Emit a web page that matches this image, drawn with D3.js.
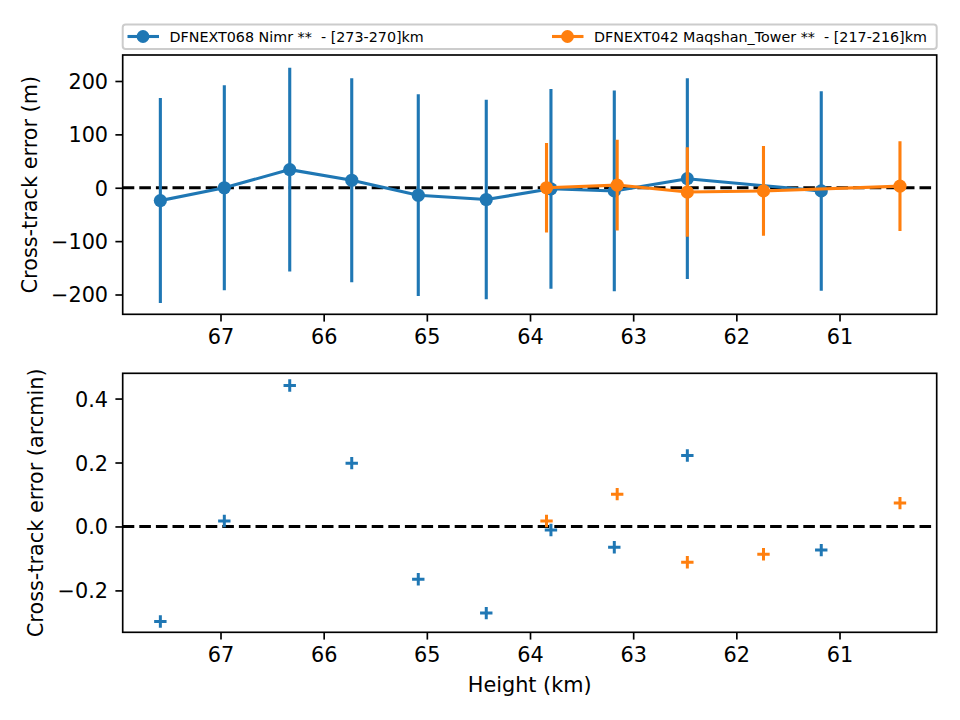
<!DOCTYPE html>
<html>
<head>
<meta charset="utf-8">
<script src="https://cdn.jsdelivr.net/npm/d3@7"></script>
<style>
  html, body { margin: 0; padding: 0; background: #ffffff; }
  svg { display: block; font-family: "DejaVu Sans", sans-serif; }
</style>
</head>
<body>
<svg id="chart" width="960" height="720"></svg>
<script>
// ---------------- data ----------------
const seriesNames = ["DFNEXT068 Nimr **  - [273-270]km", "DFNEXT042 Maqshan_Tower **  - [217-216]km"];
const seriesColors = ["#1f77b4", "#ff7f0e"];

const heightsNimr = [67.583, 66.963, 66.329, 65.728, 65.083, 64.424, 63.797, 63.183, 62.475, 61.177];
const errMetersNimr = [-24, 0, 34, 14, -14, -22, -2, -6, 17, -6];
const errBarNimr = [192, 192, 191, 191, 189, 187, 187, 188, 188, 187];
const errArcminNimr = [-0.297, 0.017, 0.441, 0.198, -0.165, -0.271, -0.011, -0.065, 0.222, -0.074];

const heightsMaq = [63.840, 63.155, 62.475, 61.737, 60.414];
const errMetersMaq = [0, 5, -8, -6, 3];
const errBarMaq = [84, 85, 84, 84, 84];
const errArcminMaq = [0.017, 0.101, -0.112, -0.087, 0.073];

const xTicks = [67, 66, 65, 64, 63, 62, 61];
const yTicksTop = [-200, -100, 0, 100, 200];
const yTicksBottom = [-0.2, 0.0, 0.2, 0.4];

const xDomain = [67.948, 60.058];
const yDomainTop = [-237.1, 248.7];
const yDomainBottom = [-0.331, 0.479];

const yLabelTop = "Cross-track error (m)";
const yLabelBottom = "Cross-track error (arcmin)";
const xLabel = "Height (km)";

// ---------------- layout ----------------
const svg = d3.select("#chart");
const L = 122.7, R = 936.7;
const topPanel = {t: 55, b: 314.3};
const botPanel = {t: 373.3, b: 632.3};
const FS = 20.8;
const tickLen = 7.3, tickPad = 7.3;
const spineW = 1.67;

const x = d3.scaleLinear().domain(xDomain).range([L, R]);
const yTop = d3.scaleLinear().domain(yDomainTop).range([topPanel.b, topPanel.t]);
const yBot = d3.scaleLinear().domain(yDomainBottom).range([botPanel.b, botPanel.t]);

const defs = svg.append("defs");
function clip(id, p) {
  defs.append("clipPath").attr("id", id).append("rect")
    .attr("x", L).attr("y", p.t).attr("width", R - L).attr("height", p.b - p.t);
}
clip("clipTop", topPanel);
clip("clipBot", botPanel);

function axes(p, y, yTicks, fmt, clipId) {
  const g = svg.append("g");
  const xa = d3.axisBottom(x).tickValues(xTicks).tickFormat(d3.format("d"))
    .tickSizeInner(tickLen).tickSizeOuter(0).tickPadding(tickPad);
  const gx = g.append("g").attr("transform", `translate(0,${p.b})`).call(xa);
  gx.select(".domain").remove();
  gx.selectAll("line").attr("stroke", "#000").attr("stroke-width", spineW);
  gx.selectAll("text").attr("font-size", FS).attr("fill", "#000")
    .attr("font-family", "DejaVu Sans").attr("dy", null).attr("y", tickLen + tickPad + 15.5);
  const ya = d3.axisLeft(y).tickValues(yTicks).tickFormat(fmt)
    .tickSizeInner(tickLen).tickSizeOuter(0).tickPadding(tickPad);
  const gy = g.append("g").attr("transform", `translate(${L},0)`).call(ya);
  gy.select(".domain").remove();
  gy.selectAll("line").attr("stroke", "#000").attr("stroke-width", spineW);
  gy.selectAll("text").attr("font-size", FS).attr("fill", "#000")
    .attr("font-family", "DejaVu Sans").attr("dy", "0.36em");
  g.append("line")
    .attr("x1", L).attr("x2", R).attr("y1", y(0)).attr("y2", y(0))
    .attr("stroke", "#000").attr("stroke-width", 3.1)
    .attr("stroke-dasharray", "11.6,5")
    .attr("clip-path", `url(#${clipId})`);
  return g;
}

axes(topPanel, yTop, yTicksTop, d3.format("d"), "clipTop");
axes(botPanel, yBot, yTicksBottom, d3.format(".1f"), "clipBot");

// ---------------- top panel data ----------------
const topData = [
  {h: heightsNimr, v: errMetersNimr, e: errBarNimr, c: seriesColors[0]},
  {h: heightsMaq, v: errMetersMaq, e: errBarMaq, c: seriesColors[1]}
];
const gTop = svg.append("g").attr("clip-path", "url(#clipTop)");
topData.forEach(s => {
  const pts = s.h.map((h, i) => ({h, v: s.v[i], e: s.e[i]}));
  const g = gTop.append("g");
  g.selectAll("line.err").data(pts).enter().append("line")
    .attr("x1", d => x(d.h)).attr("x2", d => x(d.h))
    .attr("y1", d => yTop(d.v - d.e)).attr("y2", d => yTop(d.v + d.e))
    .attr("stroke", s.c).attr("stroke-width", 3.1);
  g.append("path").datum(pts)
    .attr("d", d3.line().x(d => x(d.h)).y(d => yTop(d.v)))
    .attr("fill", "none").attr("stroke", s.c).attr("stroke-width", 3.1)
    .attr("stroke-linejoin", "round").attr("stroke-linecap", "square");
  g.selectAll("circle").data(pts).enter().append("circle")
    .attr("cx", d => x(d.h)).attr("cy", d => yTop(d.v)).attr("r", 6.6)
    .attr("fill", s.c);
});

// ---------------- bottom panel data ----------------
const botData = [
  {h: heightsNimr, v: errArcminNimr, c: seriesColors[0]},
  {h: heightsMaq, v: errArcminMaq, c: seriesColors[1]}
];
const gBot = svg.append("g").attr("clip-path", "url(#clipBot)");
const ps = 6.2;
botData.forEach(s => {
  const pts = s.h.map((h, i) => ({h, v: s.v[i]}));
  gBot.append("g").selectAll("path").data(pts).enter().append("path")
    .attr("d", d => {
      const cx = x(d.h), cy = yBot(d.v);
      return `M${cx - ps},${cy}H${cx + ps}M${cx},${cy - ps}V${cy + ps}`;
    })
    .attr("stroke", s.c).attr("stroke-width", 3).attr("fill", "none");
});

// ---------------- spines ----------------
[topPanel, botPanel].forEach(p => {
  svg.append("rect").attr("x", L).attr("y", p.t).attr("width", R - L).attr("height", p.b - p.t)
    .attr("fill", "none").attr("stroke", "#000").attr("stroke-width", spineW);
});

// ---------------- labels ----------------
svg.append("text").attr("transform", `translate(37,${(topPanel.t + topPanel.b) / 2}) rotate(-90)`)
  .attr("text-anchor", "middle").attr("font-size", FS).attr("fill", "#000").text(yLabelTop);
svg.append("text").attr("transform", `translate(42.5,${(botPanel.t + botPanel.b) / 2}) rotate(-90)`)
  .attr("text-anchor", "middle").attr("font-size", FS).attr("fill", "#000").text(yLabelBottom);
svg.append("text").attr("x", (L + R) / 2).attr("y", 692)
  .attr("text-anchor", "middle").attr("font-size", FS).attr("fill", "#000").text(xLabel);

// ---------------- legend ----------------
const leg = svg.append("g");
leg.append("rect").attr("x", L).attr("y", 24.5).attr("width", R - L).attr("height", 24.5)
  .attr("rx", 3).attr("ry", 3)
  .attr("fill", "#ffffff").attr("fill-opacity", 0.8)
  .attr("stroke", "#cccccc").attr("stroke-width", 2);
const legX = [127.5, 552];
seriesNames.forEach((name, i) => {
  const g = leg.append("g").attr("transform", `translate(${legX[i]},36.5)`);
  g.append("line").attr("x1", 0).attr("x2", 31.5).attr("y1", 0).attr("y2", 0)
    .attr("stroke", seriesColors[i]).attr("stroke-width", 3.1);
  g.append("circle").attr("cx", 15.5).attr("cy", 0).attr("r", 6.4).attr("fill", seriesColors[i]);
  g.append("text").attr("x", 42).attr("y", 5).attr("font-size", 14.3).attr("fill", "#000")
    .attr("xml:space", "preserve").style("white-space", "pre").text(name);
});
</script>
</body>
</html>
